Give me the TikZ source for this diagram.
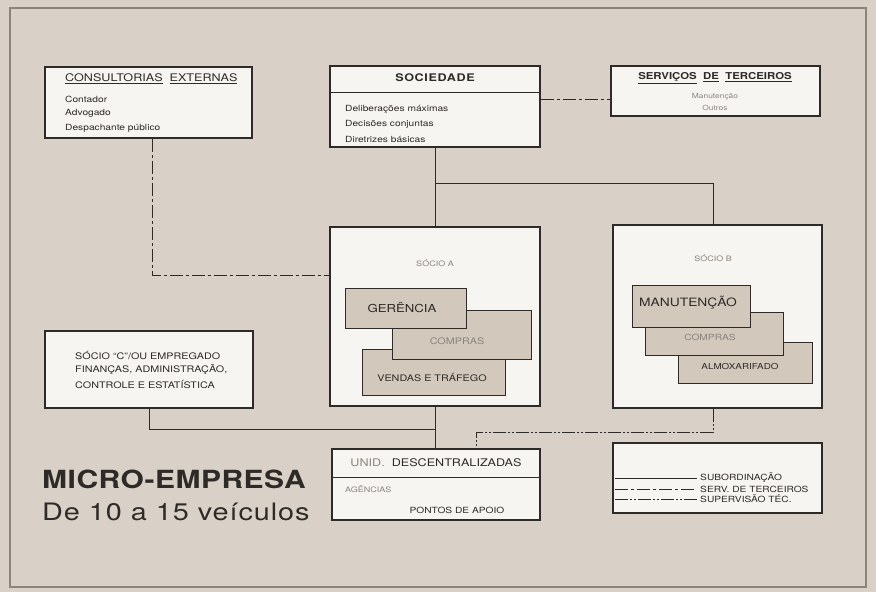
\documentclass[tikz,border=0pt]{standalone}
\usepackage{fontspec}
\setmainfont[FakeStretch=1.2]{TeX Gyre Heros}
\usetikzlibrary{positioning}
\definecolor{paper}{HTML}{D9D1C7}
\definecolor{boxwhite}{HTML}{F7F5F1}
\definecolor{partfill}{HTML}{D2C8BC}
\definecolor{ink}{HTML}{2E2A27}
\definecolor{faded}{HTML}{8A847E}
\definecolor{framec}{HTML}{8C847B}
\tikzstyle{box} = [rectangle, draw=ink, line width=1.3pt, fill=boxwhite, inner sep=0pt]
\tikzstyle{part} = [rectangle, draw=ink, line width=1pt, fill=partfill, inner sep=0pt]
\tikzstyle{txt} = [inner sep=0pt, text=ink, font=\fontsize{8.5}{10}\selectfont]
\tikzstyle{head} = [inner sep=0pt, text=ink, font=\fontsize{10.5}{12}\selectfont]
\tikzstyle{small} = [inner sep=0pt, text=faded, font=\fontsize{7.5}{9}\selectfont]
\tikzstyle{sub} = [draw=ink, line width=1pt]
\tikzstyle{serv} = [draw=ink, line width=1pt, dash pattern=on 13pt off 3pt on 3pt off 3pt]
\tikzstyle{superv} = [draw=ink, line width=1pt, dash pattern=on 13pt off 2pt on 2pt off 2pt on 2pt off 2pt]

\begin{document}
\begin{tikzpicture}[x=1pt, y=-1pt]
  \useasboundingbox (0,0) rectangle (876,592);
  \fill [paper] (0,0) rectangle (876,592);
  \draw [framec, line width=1.2pt] (10,8) rectangle (866,587);

  % Place nodes
  \node [box, minimum width=207pt, minimum height=71pt] (consult) at (148.5,102.5) {};
  \node [box, minimum width=210pt, minimum height=81pt] (soc) at (435,106.5) {};
  \node [box, minimum width=209pt, minimum height=50pt] (serv) at (715.5,91) {};
  \node [box, minimum width=210pt, minimum height=179pt] (socA) at (435,316.5) {};
  \node [box, minimum width=209pt, minimum height=183pt] (socB) at (717.5,316.5) {};
  \node [box, minimum width=208pt, minimum height=77pt] (socC) at (149,369.5) {};
  \node [box, minimum width=208pt, minimum height=71pt] (unid) at (436,484.5) {};
  \node [box, minimum width=209pt, minimum height=70pt, line width=1.8pt] (leg) at (717.5,478) {};

  % header rules
  \coordinate (sepS) at (435,92);
  \coordinate (sepU) at (435,477);
  \draw [sub] (soc.west |- sepS) -- (soc.east |- sepS);
  \draw [sub] (unid.west |- sepU) -- (unid.east |- sepU);

  % texts of the boxes
  \node [head, anchor=west] (consultH) at (65,79) {\underline{CONSULTORIAS}\ \ \underline{EXTERNAS}};
  \node [txt, anchor=west] (c1) at (65,99) {Contador};
  \node [txt, anchor=west] (c2) at (65,113) {Advogado};
  \node [txt, anchor=west] (c3) at (65,128) {Despachante público};

  \node [head, font=\fontsize{10.5}{12}\bfseries\addfontfeature{LetterSpace=6}] (socH) at (435,78) {SOCIEDADE};
  \node [txt, anchor=west] (s1) at (345,109) {Deliberações máximas};
  \node [txt, anchor=west] (s2) at (345,124) {Decisões conjuntas};
  \node [txt, anchor=west] (s3) at (345,139) {Diretrizes básicas};

  \node [head, font=\fontsize{9.5}{11}\bfseries] (servH) at (715,78) {\underline{SERVIÇOS}\ \ \underline{DE}\ \ \underline{TERCEIROS}};
  \node [small, font=\fontsize{7}{8}\selectfont] (v1) at (715,97) {Manutenção};
  \node [small, font=\fontsize{7}{8}\selectfont] (v2) at (715,108) {Outros};

  % socio A
  \node [small] (socAH) at (435,263) {SÓCIO A};
  \node [part, minimum width=143pt, minimum height=46pt] (vendas) at (433.5,372) {};
  \node [txt, font=\fontsize{9}{10}\selectfont] (vendasT) at (432,377) {VENDAS E TRÁFEGO};
  \node [part, minimum width=139pt, minimum height=49pt] (comprasA) at (461.5,334.5) {};
  \node [small, font=\fontsize{9}{10}\selectfont] (comprasAT) at (457,341) {COMPRAS};
  \node [part, minimum width=121pt, minimum height=40pt] (ger) at (405.5,308) {};
  \node [txt, font=\fontsize{11}{12}\selectfont] (gerT) at (402,308) {GERÊNCIA};

  % socio B
  \node [small] (socBH) at (713,258) {SÓCIO B};
  \node [part, minimum width=134pt, minimum height=41pt] (almox) at (745,362.5) {};
  \node [txt, font=\fontsize{8.2}{10}\selectfont] (almoxT) at (740,367) {ALMOXARIFADO};
  \node [part, minimum width=138pt, minimum height=43pt] (comprasB) at (714,333.5) {};
  \node [small, font=\fontsize{8.5}{10}\selectfont] (comprasBT) at (710,337) {COMPRAS};
  \node [part, minimum width=118pt, minimum height=42pt] (manut) at (691,306) {};
  \node [txt, font=\fontsize{11.5}{13}\selectfont] (manutT) at (688,303) {MANUTENÇÃO};

  % socio C
  \node [txt, anchor=west, font=\fontsize{9}{10}\selectfont] (sc1) at (75,355) {SÓCIO ``C''/OU EMPREGADO};
  \node [txt, anchor=west, font=\fontsize{9}{10}\selectfont] (sc2) at (75,369) {FINANÇAS, ADMINISTRAÇÃO,};
  \node [txt, anchor=west, font=\fontsize{9}{10}\selectfont] (sc3) at (75,384) {CONTROLE E ESTATÍSTICA};

  % unidades
  \node [head] (unidH) at (436,463) {\textcolor{faded}{UNID.}\ \ DESCENTRALIZADAS};
  \node [small, anchor=west] (u1) at (345,489) {AGÊNCIAS};
  \node [txt] (u2) at (457,510) {PONTOS DE APOIO};

  % title
  \node [inner sep=0pt, anchor=base west, text=ink, font=\fontsize{25}{28}\bfseries\addfontfeature{LetterSpace=2}] (title) at (42,488) {MICRO-EMPRESA};
  \node [inner sep=0pt, anchor=base west, text=ink, font=\fontsize{24}{28}\selectfont\addfontfeature{LetterSpace=4}] (subtitle) at (42,520) {De 10 a 15 veículos};

  % connectors
  \coordinate (j1) at (435,183);
  \coordinate (jB) at (713,183);
  \draw [sub] (soc.south) -- (socA.north);
  \draw [sub] (j1) -- (jB) -- (jB |- socB.north);
  \coordinate (j2) at (435,429);
  \draw [sub] (socC.south) |- (j2);
  \draw [sub] (socA.south) -- (socA.south |- unid.north);
  \coordinate (j3) at (713,432);
  \coordinate (j4) at (476,432);
  \draw [superv] (j3 |- socB.south) -- (j3) -- (j4) -- (j4 |- unid.north);
  \coordinate (j5) at (152,275);
  \draw [serv] (j5 |- consult.south) -- (j5) -- (j5 -| socA.west);
  \coordinate (j6) at (611,99);
  \draw [serv] (j6 -| soc.east) -- (j6 -| serv.west);

  % legend
  \coordinate (l1a) at (615,478); \coordinate (l1b) at (697,478);
  \coordinate (l2a) at (615,489); \coordinate (l2b) at (697,489);
  \coordinate (l3a) at (615,499); \coordinate (l3b) at (697,499);
  \draw [sub] (l1a) -- (l1b);
  \draw [serv] (l2a) -- (l2b);
  \draw [superv] (l3a) -- (l3b);
  \node [txt, anchor=west] (t1) at (700,478) {SUBORDINAÇÃO};
  \node [txt, anchor=west] (t2) at (700,489) {SERV. DE TERCEIROS};
  \node [txt, anchor=west] (t3) at (700,499) {SUPERVISÃO TÉC.};

\end{tikzpicture}
\end{document}
